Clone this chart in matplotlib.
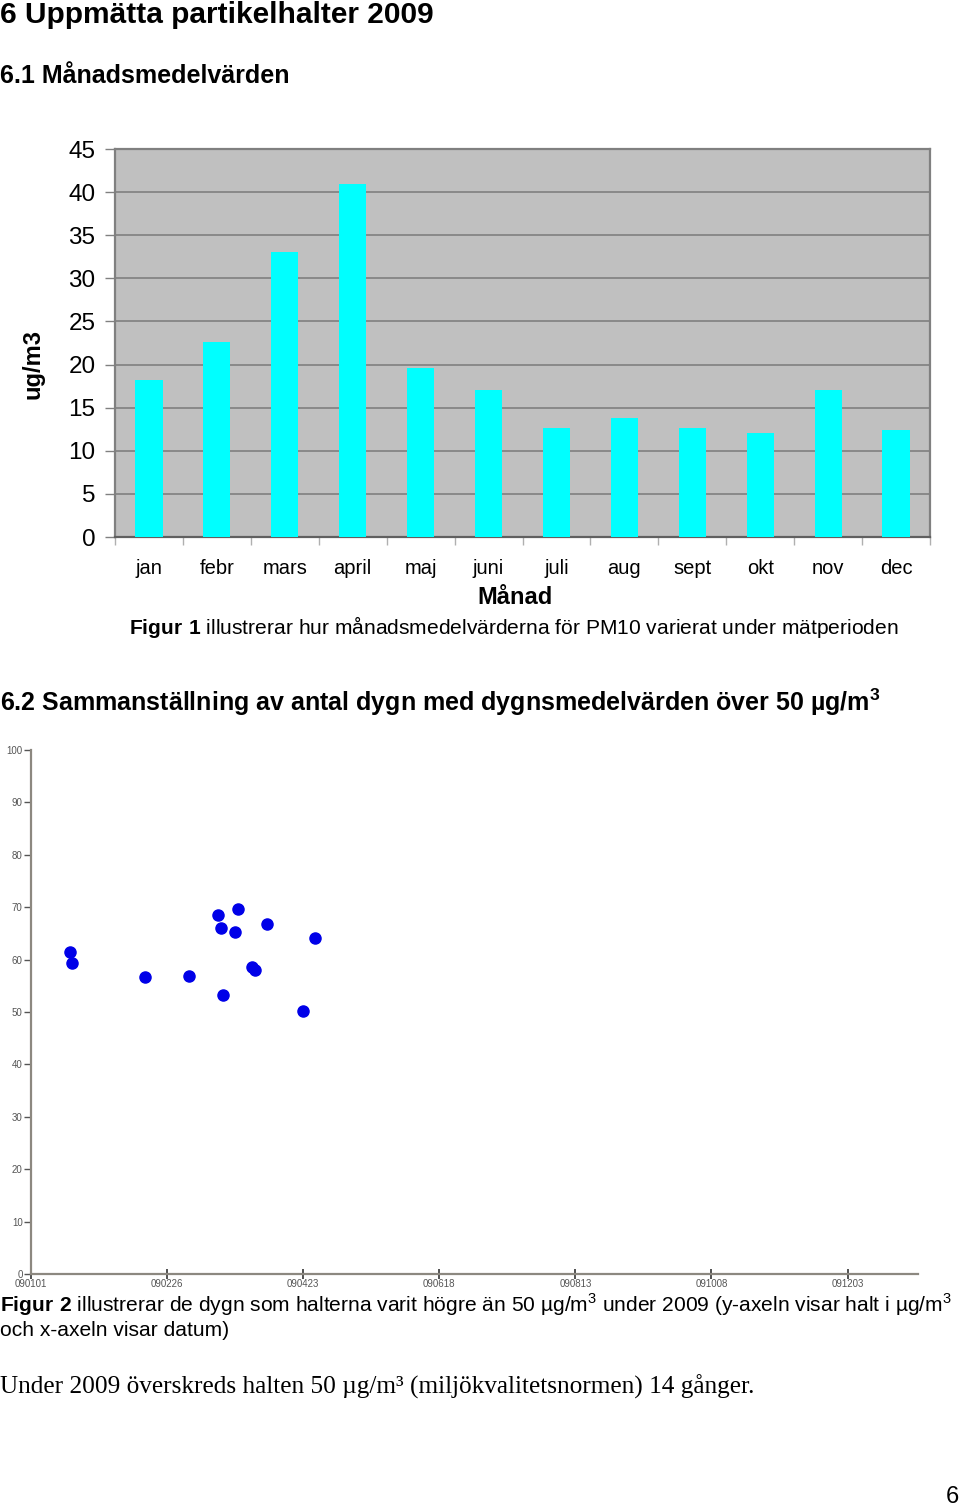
import numpy as np
import matplotlib
matplotlib.use("Agg")
import matplotlib.pyplot as plt
import matplotlib.dates as mdates
from datetime import datetime

plt.rcParams["font.family"] = ["Liberation Sans", "DejaVu Sans"]
plt.rcParams["mathtext.fontset"] = "custom"
plt.rcParams["mathtext.rm"] = "Liberation Sans"
plt.rcParams["mathtext.bf"] = "Liberation Sans:bold"

# Figur 1: monthly means PM10 (ug/m3)
months = ["jan", "febr", "mars", "april", "maj", "juni",
          "juli", "aug", "sept", "okt", "nov", "dec"]
monthly_mean = [18.2, 22.6, 33.1, 40.9, 19.6, 17.1,
                12.6, 13.8, 12.6, 12.1, 17.0, 12.4]

# Figur 2: days above 50 ug/m3 (yymmdd)
exceed_dates = ["090117", "090118", "090217", "090307", "090319", "090320", "090321",
                "090326", "090327", "090402", "090403", "090408", "090423", "090428"]
exceed_values = [61.4, 59.3, 56.7, 56.9, 68.6, 66.0, 53.3,
                 65.2, 69.6, 58.6, 58.1, 66.7, 50.2, 64.1]
date_ticks = ["090101", "090226", "090423", "090618", "090813", "091008", "091203"]

W, H = 960, 1509
fig = plt.figure(figsize=(W / 100, H / 100), dpi=100)


def fx(px):
    return px / W


def fy(py):
    return 1 - py / H


# --- bar chart ---
ax1 = fig.add_axes([fx(115), fy(537), 815 / W, 388 / H])
ax1.set_facecolor("#c0c0c0")
ax1.bar(range(len(months)), monthly_mean, width=0.4, color="#00ffff", zorder=3)
ax1.set_xlim(-0.5, len(months) - 0.5)
ax1.set_ylim(0, 45)
ax1.set_yticks(range(0, 46, 5))
ax1.yaxis.grid(True, color="#808080", lw=1.2)
ax1.set_axisbelow(True)
ax1.set_xticks(np.arange(-0.5, len(months), 1))
ax1.set_xticklabels([])
ax1.set_xticks(range(len(months)), minor=True)
ax1.set_xticklabels(months, minor=True)
ax1.tick_params(axis="x", which="major", length=6, color="#b0b0b0", width=1)
ax1.tick_params(axis="x", which="minor", length=0, pad=16, labelsize=14.5)
ax1.tick_params(axis="y", length=7, color="#808080", width=1, pad=7, labelsize=17.5)
for s in ax1.spines.values():
    s.set_color("#808080")
    s.set_linewidth(1.6)
ax1.spines["bottom"].set_color("#606060")

# --- scatter ---
ax2 = fig.add_axes([fx(31), fy(1274), 887 / W, 524 / H])
xd = [datetime.strptime(d, "%y%m%d") for d in exceed_dates]
ax2.scatter(xd, exceed_values, s=64, color="#0000e8", zorder=3, clip_on=False)
ax2.set_xlim(datetime(2009, 1, 1), datetime(2010, 1, 1))
ax2.set_ylim(0, 100)
ax2.set_yticks(range(0, 101, 10))
ax2.set_xticks([datetime.strptime(d, "%y%m%d") for d in date_ticks])
ax2.xaxis.set_major_formatter(mdates.DateFormatter("%y%m%d"))
ax2.spines["top"].set_visible(False)
ax2.spines["right"].set_visible(False)
for s in ("left", "bottom"):
    ax2.spines[s].set_color("#8c8880")
    ax2.spines[s].set_linewidth(1.6)
ax2.tick_params(axis="y", length=5, width=1, color="#555555", labelsize=7,
                labelcolor="#555555", pad=1)
ax2.tick_params(axis="x", direction="inout", length=7, width=1.2, color="#333333",
                labelsize=7, labelcolor="#555555", pad=0)

# --- page text ---
fig.text(0, fy(15), "6 Uppmätta partikelhalter 2009", fontsize=21.5, weight="bold", va="center")
fig.text(0, fy(76), "6.1 Månadsmedelvärden", fontsize=18, weight="bold", va="center")
fig.text(fx(33), fy(364), "ug/m3", fontsize=17, weight="bold", rotation=90,
         ha="center", va="center")
fig.text(fx(515), fy(597), "Månad", fontsize=17, weight="bold", ha="center", va="center")
fig.text(fx(129), fy(627),
         r"$\mathbf{Figur\ 1}$ illustrerar hur månadsmedelvärderna för PM10 varierat under mätperioden",
         fontsize=15.1, va="center")
fig.text(0, fy(702),
         r"6.2 Sammanställning av antal dygn med dygnsmedelvärden över 50 µg/m$^{\mathbf{3}}$",
         fontsize=18, weight="bold", va="center")
fig.text(0, fy(1305),
         r"$\mathbf{Figur\ 2}$ illustrerar de dygn som halterna varit högre än 50 µg/m$^{\mathrm{3}}$"
         r" under 2009 (y-axeln visar halt i µg/m$^{\mathrm{3}}$",
         fontsize=15.1, va="center")
fig.text(0, fy(1330), "och x-axeln visar datum)", fontsize=15.1, va="center")
fig.text(0, fy(1387), "Under 2009 överskreds halten 50 µg/m³ (miljökvalitetsnormen) 14 gånger.",
         fontsize=18.2, family="Liberation Serif", va="center")
fig.text(fx(959), fy(1497), "6", fontsize=17, ha="right", va="center")

fig.savefig("out.png", dpi=100)
